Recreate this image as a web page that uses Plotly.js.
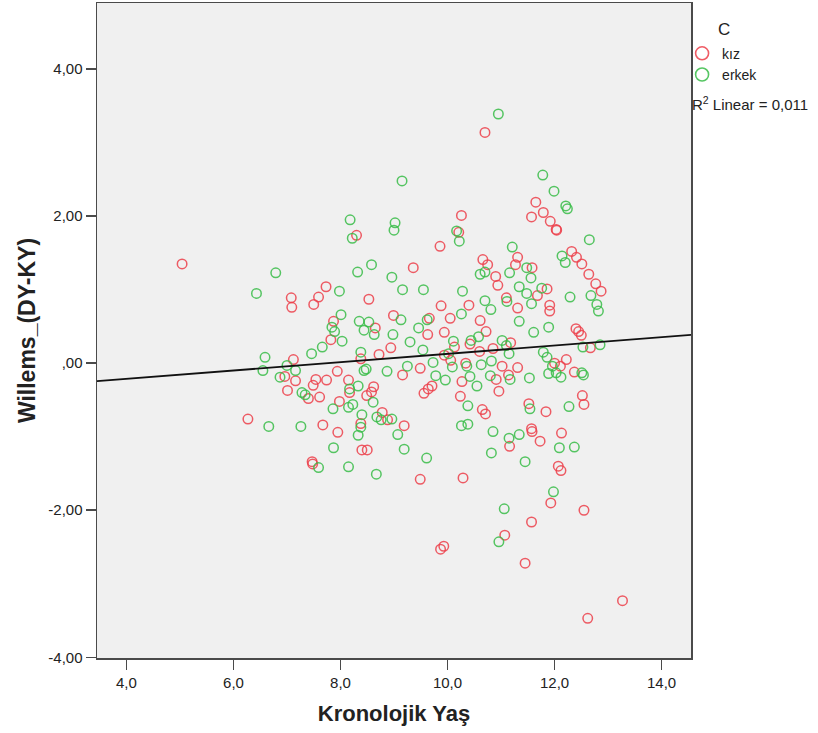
<!DOCTYPE html>
<html>
<head>
<meta charset="utf-8">
<script src="https://cdn.plot.ly/plotly-3.0.1.min.js"></script>
<style>
html,body{margin:0;padding:0;background:#fff;}
#chart{width:818px;height:733px;}
</style>
</head>
<body>
<div id="chart"></div>
<script>
// ---- data ----
const groupNames = ["kız", "erkek"];

const kizAge = [5.04,7.08,7.09,7.73,7.59,7.50,8.30,8.53,9.36,7.87,
  8.65,7.82,8.99,8.94,8.72,8.38,7.12,6.96,7.16,7.94,
  9.16,7.54,7.74,8.15,7.49,8.62,9.49,9.86,11.31,11.27,
  10.66,10.75,10.90,10.94,11.58,12.32,12.41,12.51,12.64,12.77,
  12.87,11.86,11.68,11.10,10.40,9.88,11.31,11.91,11.91,10.05,
  9.66,10.61,12.40,12.45,12.50,9.94,9.63,10.72,10.42,11.18,
  12.67,9.94,10.13,10.60,10.85,12.22,12.00,12.11,10.06,10.34,
  11.02,11.31,11.14,10.91,10.27,12.37,9.71,9.64,9.56,10.96,
  10.70,11.65,11.79,11.57,11.92,12.03,12.04,10.26,10.21,7.01,
  7.40,7.61,7.98,8.17,8.58,8.49,8.78,8.88,9.19,8.38,
  6.27,7.67,7.95,8.40,8.50,7.47,7.48,9.49,10.24,10.65,
  10.71,11.52,11.84,12.52,12.55,11.16,11.57,11.58,11.73,12.13,
  12.07,12.12,10.29,11.93,12.55,11.57,11.07,9.87,9.93,11.45,
  13.27,12.62];
const kizScore = [1.35,0.89,0.76,1.04,0.90,0.80,1.74,0.87,1.30,0.57,
  0.48,0.32,0.65,0.21,0.12,0.06,0.05,-0.18,-0.24,-0.11,
  -0.16,-0.22,-0.23,-0.23,-0.30,-0.32,-0.07,1.59,1.44,1.34,
  1.41,1.34,1.18,1.06,1.30,1.52,1.44,1.35,1.21,1.08,
  0.98,1.01,0.92,0.89,0.79,0.78,0.75,0.79,0.71,0.61,
  0.61,0.58,0.47,0.43,0.38,0.42,0.39,0.43,0.26,0.28,
  0.21,0.11,0.22,0.16,0.20,0.05,0.00,-0.04,0.04,0.00,
  -0.04,-0.06,-0.16,-0.22,-0.25,-0.12,-0.31,-0.35,-0.41,-0.38,
  3.14,2.19,2.05,1.99,1.93,1.82,1.81,2.01,1.78,-0.37,
  -0.48,-0.46,-0.52,-0.40,-0.39,-0.44,-0.67,-0.77,-0.85,-0.82,
  -0.76,-0.84,-0.94,-1.18,-1.18,-1.34,-1.37,-1.58,-0.45,-0.63,
  -0.69,-0.55,-0.66,-0.44,-0.56,-1.13,-0.89,-0.93,-1.06,-0.95,
  -1.40,-1.46,-1.56,-1.90,-2.00,-2.16,-2.34,-2.53,-2.49,-2.72,
  -3.23,-3.47];

const erkekAge = [8.18,8.22,9.02,9.00,9.15,10.95,11.78,11.99,12.21,12.24,
  12.65,10.17,10.22,11.21,6.79,6.43,7.98,8.32,8.58,8.96,
  9.16,8.01,8.35,8.53,8.44,8.63,7.84,7.89,8.03,9.13,
  8.98,9.30,9.46,8.38,7.66,7.46,6.59,6.55,7.00,7.16,
  6.87,8.48,8.44,8.87,9.25,8.33,9.55,10.28,10.70,10.61,
  11.16,11.48,11.56,12.14,12.20,11.34,11.48,11.76,11.57,11.11,
  10.70,10.81,12.29,12.68,12.79,12.82,10.26,9.62,11.34,11.89,
  11.61,10.58,10.11,10.44,11.02,11.10,12.53,12.85,9.54,10.02,
  11.15,11.79,11.86,11.96,9.73,10.09,10.36,10.63,10.82,9.78,
  10.42,10.80,11.17,11.53,11.89,12.03,12.12,12.54,12.51,9.96,
  10.55,7.28,7.34,7.86,8.17,8.15,8.23,8.61,8.40,8.68,
  8.76,8.96,9.07,9.19,8.38,8.33,6.66,7.26,7.87,7.59,
  8.15,8.67,10.38,10.26,10.38,11.54,12.27,10.85,11.15,11.34,
  12.09,12.37,10.82,11.45,9.61,11.98,11.06,10.96];
const erkekScore = [1.95,1.70,1.91,1.81,2.48,3.39,2.56,2.34,2.14,2.10,
  1.68,1.80,1.66,1.58,1.23,0.95,0.98,1.24,1.34,1.17,
  1.00,0.66,0.57,0.56,0.45,0.39,0.49,0.43,0.30,0.59,
  0.39,0.29,0.48,0.15,0.22,0.13,0.08,-0.10,-0.03,-0.10,
  -0.19,-0.08,-0.10,-0.11,-0.04,-0.31,1.00,0.98,1.24,1.21,
  1.23,1.30,1.16,1.46,1.37,1.04,0.95,1.02,0.81,0.84,
  0.85,0.73,0.90,0.92,0.80,0.71,0.67,0.59,0.57,0.49,
  0.42,0.36,0.30,0.31,0.31,0.24,0.22,0.25,0.18,0.13,
  0.13,0.15,0.08,-0.04,0.01,-0.05,-0.04,-0.02,0.03,-0.17,
  -0.18,-0.17,-0.22,-0.20,-0.14,-0.13,-0.19,-0.16,-0.13,-0.23,
  -0.31,-0.40,-0.43,-0.62,-0.35,-0.60,-0.56,-0.53,-0.70,-0.73,
  -0.77,-0.76,-0.97,-1.17,-0.87,-0.98,-0.86,-0.86,-1.15,-1.42,
  -1.41,-1.51,-0.58,-0.85,-0.83,-0.62,-0.59,-0.93,-1.02,-0.97,
  -1.15,-1.14,-1.22,-1.34,-1.29,-1.75,-1.98,-2.43];

const xTickVals = [4, 6, 8, 10, 12, 14];
const xTickText = ["4,0", "6,0", "8,0", "10,0", "12,0", "14,0"];
const yTickVals = [-4, -2, 0, 2, 4];
const yTickText = ["-4,00", "-2,00", ",00", "2,00", "4,00"];
const r2Label = "R<sup>2</sup> Linear = 0,011";
const legendTitle = "C";
const xTitle = "Kronolojik Yaş";
const yTitle = "Willems_(DY-KY)";

// ---- styling ----
const xRange = [3.45, 14.55];
const yRange = [-4.01, 4.9];
const red = "rgba(236,64,74,0.85)";
const green = "rgba(56,188,72,0.85)";
const font = "Liberation Sans, Arial, sans-serif";

// least-squares fit on all points (total fit line)
const allX = kizAge.concat(erkekAge);
const allY = kizScore.concat(erkekScore);
const n = allX.length;
const mx = allX.reduce((a,b)=>a+b,0)/n;
const my = allY.reduce((a,b)=>a+b,0)/n;
let sxy = 0, sxx = 0;
for (let i = 0; i < n; i++) { sxy += (allX[i]-mx)*(allY[i]-my); sxx += (allX[i]-mx)*(allX[i]-mx); }
const slope = sxy/sxx;
const intercept = my - slope*mx;

const markerBase = {symbol: "circle-open", size: 9.5};

const traces = [
  {type: "scatter", mode: "markers", x: kizAge, y: kizScore, name: groupNames[0],
   marker: Object.assign({}, markerBase, {color: red, line: {color: red, width: 1.5}}),
   showlegend: false, hoverinfo: "x+y"},
  {type: "scatter", mode: "markers", x: erkekAge, y: erkekScore, name: groupNames[1],
   marker: Object.assign({}, markerBase, {color: green, line: {color: green, width: 1.5}}),
   showlegend: false, hoverinfo: "x+y"},
  {type: "scatter", mode: "lines", x: xRange, y: xRange.map(v => intercept + slope*v),
   line: {color: "#111", width: 1.8}, showlegend: false, hoverinfo: "skip"},
  // legend-only entries (bigger symbols like the reference key)
  {type: "scatter", mode: "markers", x: [null], y: [null], name: groupNames[0],
   marker: {symbol: "circle-open", size: 13, color: red, line: {color: red, width: 1.6}}},
  {type: "scatter", mode: "markers", x: [null], y: [null], name: groupNames[1],
   marker: {symbol: "circle-open", size: 13, color: green, line: {color: green, width: 1.6}}}
];

const axisCommon = {
  showgrid: false, zeroline: false, showline: true, mirror: true,
  linecolor: "#4a4a4a", linewidth: 1.5,
  ticks: "outside", ticklen: 10, tickwidth: 1.5, tickcolor: "#4a4a4a",
  tickfont: {family: font, size: 15, color: "#222"},
  tickmode: "array", fixedrange: true
};

const layout = {
  width: 818, height: 733,
  margin: {l: 97, r: 127, t: 3, b: 75},
  paper_bgcolor: "#ffffff",
  plot_bgcolor: "#f0f0f0",
  font: {family: font, color: "#222"},
  xaxis: Object.assign({}, axisCommon, {
    range: xRange, tickvals: xTickVals, ticktext: xTickText,
    title: {text: xTitle, font: {family: font, size: 22, color: "#222", weight: "bold"}, standoff: 16},
    automargin: false
  }),
  yaxis: Object.assign({}, axisCommon, {
    range: yRange, tickvals: yTickVals, ticktext: yTickText,
    title: {text: yTitle, font: {family: font, size: 23, color: "#222", weight: "bold"}, standoff: 6},
    automargin: false
  }),
  showlegend: true,
  legend: {
    x: 0.985, xanchor: "left", y: 0.947, yanchor: "top",
    bgcolor: "rgba(0,0,0,0)", borderwidth: 0,
    font: {family: font, size: 14, color: "#222"},
    tracegroupgap: 0, itemwidth: 30
  },
  annotations: [
    {xref: "paper", yref: "paper", x: 1.056, y: 0.96, xanchor: "center", yanchor: "middle",
     text: legendTitle, showarrow: false, font: {family: font, size: 17, color: "#222"}},
    {xref: "paper", yref: "paper", x: 0.998, y: 0.847, xanchor: "left", yanchor: "middle",
     text: r2Label, showarrow: false, font: {family: font, size: 15, color: "#222"}}
  ]
};

Plotly.newPlot("chart", traces, layout, {displayModeBar: false, staticPlot: true});
</script>
</body>
</html>
